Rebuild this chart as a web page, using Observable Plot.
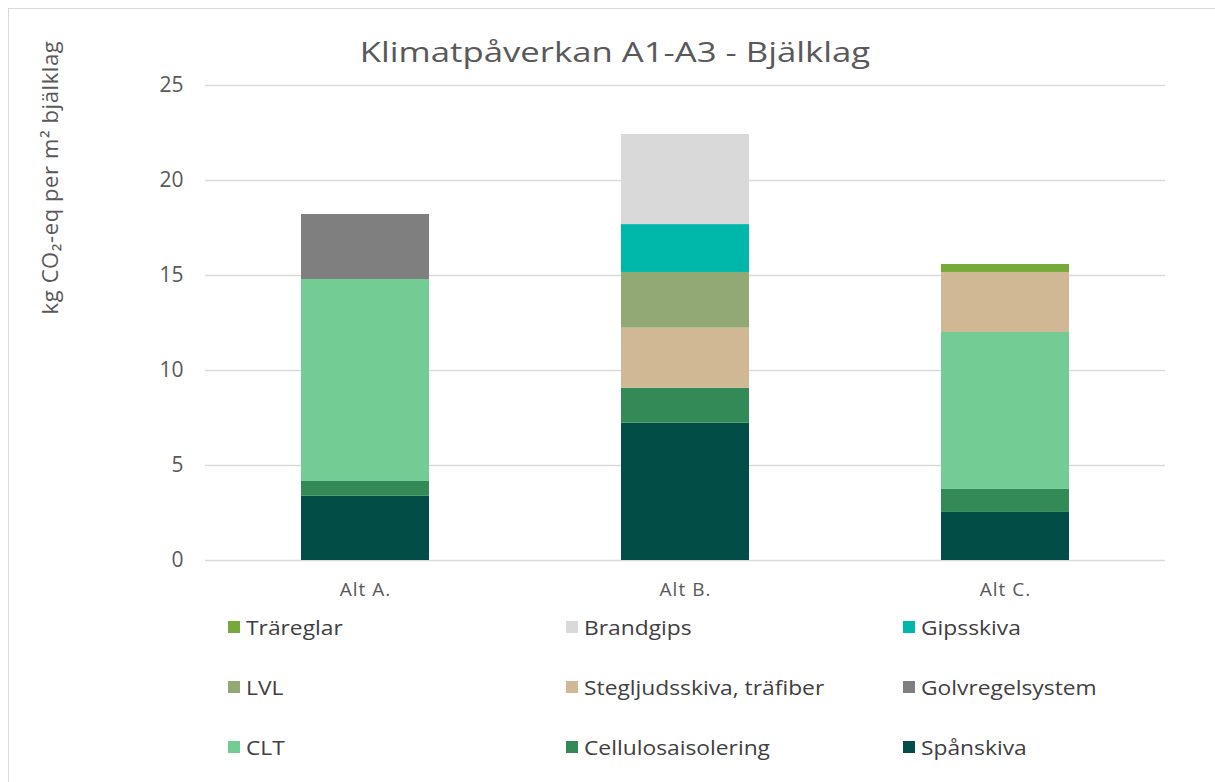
<!DOCTYPE html>
<html><head><meta charset="utf-8">
<script src="https://cdn.jsdelivr.net/npm/d3@7"></script>
<script src="https://cdn.jsdelivr.net/npm/@observablehq/plot@0.6"></script>
<style>
body{margin:0;background:#fff;font-family:"Open Sans",sans-serif;}
#wrap{position:relative;width:1215px;height:782px;overflow:hidden;}
#frame{position:absolute;left:8px;top:8px;width:1215px;height:800px;border:1.5px solid #d9d9d9;box-sizing:border-box;}
#title{position:absolute;left:0;width:1230px;top:32px;text-align:center;font-size:28px;color:#595959;transform:scaleX(1.24);transform-origin:615px 0;}
#chart{position:absolute;left:0;top:0;}
.leg{position:absolute;font-size:20px;color:#404040;display:flex;align-items:center;transform-origin:0 50%;}
.leg span.sw{display:inline-block;width:12px;height:12px;margin-right:6px;}
</style></head>
<body><div id="wrap"><div id="frame"></div><div id="chart"></div><div id="title">Klimatpåverkan A1-A3 - Bjälklag</div><div id="legend"></div></div>
<script>
const alternatives = ["Alt A.", "Alt B.", "Alt C."];
// bottom-to-top stack order
const materials = ["Spånskiva","Cellulosaisolering","CLT","Golvregelsystem","Stegljudsskiva, träfiber","LVL","Gipsskiva","Brandgips","Träreglar"];
const colors = ["#024e47","#338a56","#72cc93","#7f7f7f","#cfb893","#93a974","#00b8aa","#d9d9d9","#76a83a"];
const altA = [3.38, 0.78, 10.63, 3.42, 0, 0, 0, 0, 0];
const altB = [7.23, 1.84, 0, 0, 3.16, 2.93, 2.52, 4.74, 0];
const altC = [2.53, 1.21, 8.26, 0, 3.16, 0, 0, 0, 0.42];
const yTicks = [0, 5, 10, 15, 20, 25];
const legendOrder = ["Träreglar","Brandgips","Gipsskiva","LVL","Stegljudsskiva, träfiber","Golvregelsystem","CLT","Cellulosaisolering","Spånskiva"];

const series = [altA, altB, altC];
const data = [];
alternatives.forEach((alt, i) => {
  materials.forEach((m, j) => {
    if (series[i][j] > 0) data.push({alt, material: m, value: series[i][j]});
  });
});

const plot = Plot.plot({
  width: 1215,
  height: 610,
  marginTop: 85,
  marginBottom: 50,
  marginLeft: 205,
  marginRight: 50,
  style: {fontFamily: "'Open Sans', sans-serif", color: "#595959", background: "transparent"},
  x: {domain: alternatives, paddingInner: 0.6, paddingOuter: 0.3, label: null},
  y: {domain: [0, 25], ticks: yTicks, label: null},
  color: {domain: materials, range: colors},
  marks: [
    Plot.ruleY(yTicks, {stroke: "#d9d9d9", strokeWidth: 1.5}),
    Plot.barY(data, {x: "alt", y: "value", fill: "material", order: materials}),
    Plot.axisY({ticks: yTicks, tickSize: 0, tickPadding: 22, fontSize: 21, fill: "#595959", label: null}),
    Plot.axisX({tickSize: 0, tickPadding: 22, fontSize: 19, fill: "#595959", label: null}),
    Plot.text(["kg CO₂-eq per m² bjälklag"], {frameAnchor: "top-left", dx: -163, dy: 92, rotate: -90, fontSize: 22, fill: "#595959", textAnchor: "middle"})
  ]
});
document.getElementById("chart").appendChild(plot);
d3.select(plot).selectAll("g[aria-label='x-axis tick label'] text").style("letter-spacing", "1px");
d3.select(plot).selectAll("g[aria-label='text'] text").style("letter-spacing", "0.6px");

const legend = document.getElementById("legend");
const colX = [228, 566, 903];
const rowY = [627, 687, 747];
legendOrder.forEach((m, k) => {
  const d = document.createElement("div");
  d.className = "leg";
  d.style.left = colX[k % 3] + "px";
  d.style.top = (rowY[Math.floor(k / 3)] - 14) + "px";
  d.style.height = "28px";
  const sw = document.createElement("span");
  sw.className = "sw";
  sw.style.background = colors[materials.indexOf(m)];
  d.appendChild(sw);
  const t = document.createElement("span");
  t.textContent = m;
  t.style.display = "inline-block";
  t.style.transform = "scaleX(1.14)";
  t.style.transformOrigin = "0 50%";
  d.appendChild(t);
  legend.appendChild(d);
});
</script></body></html>
